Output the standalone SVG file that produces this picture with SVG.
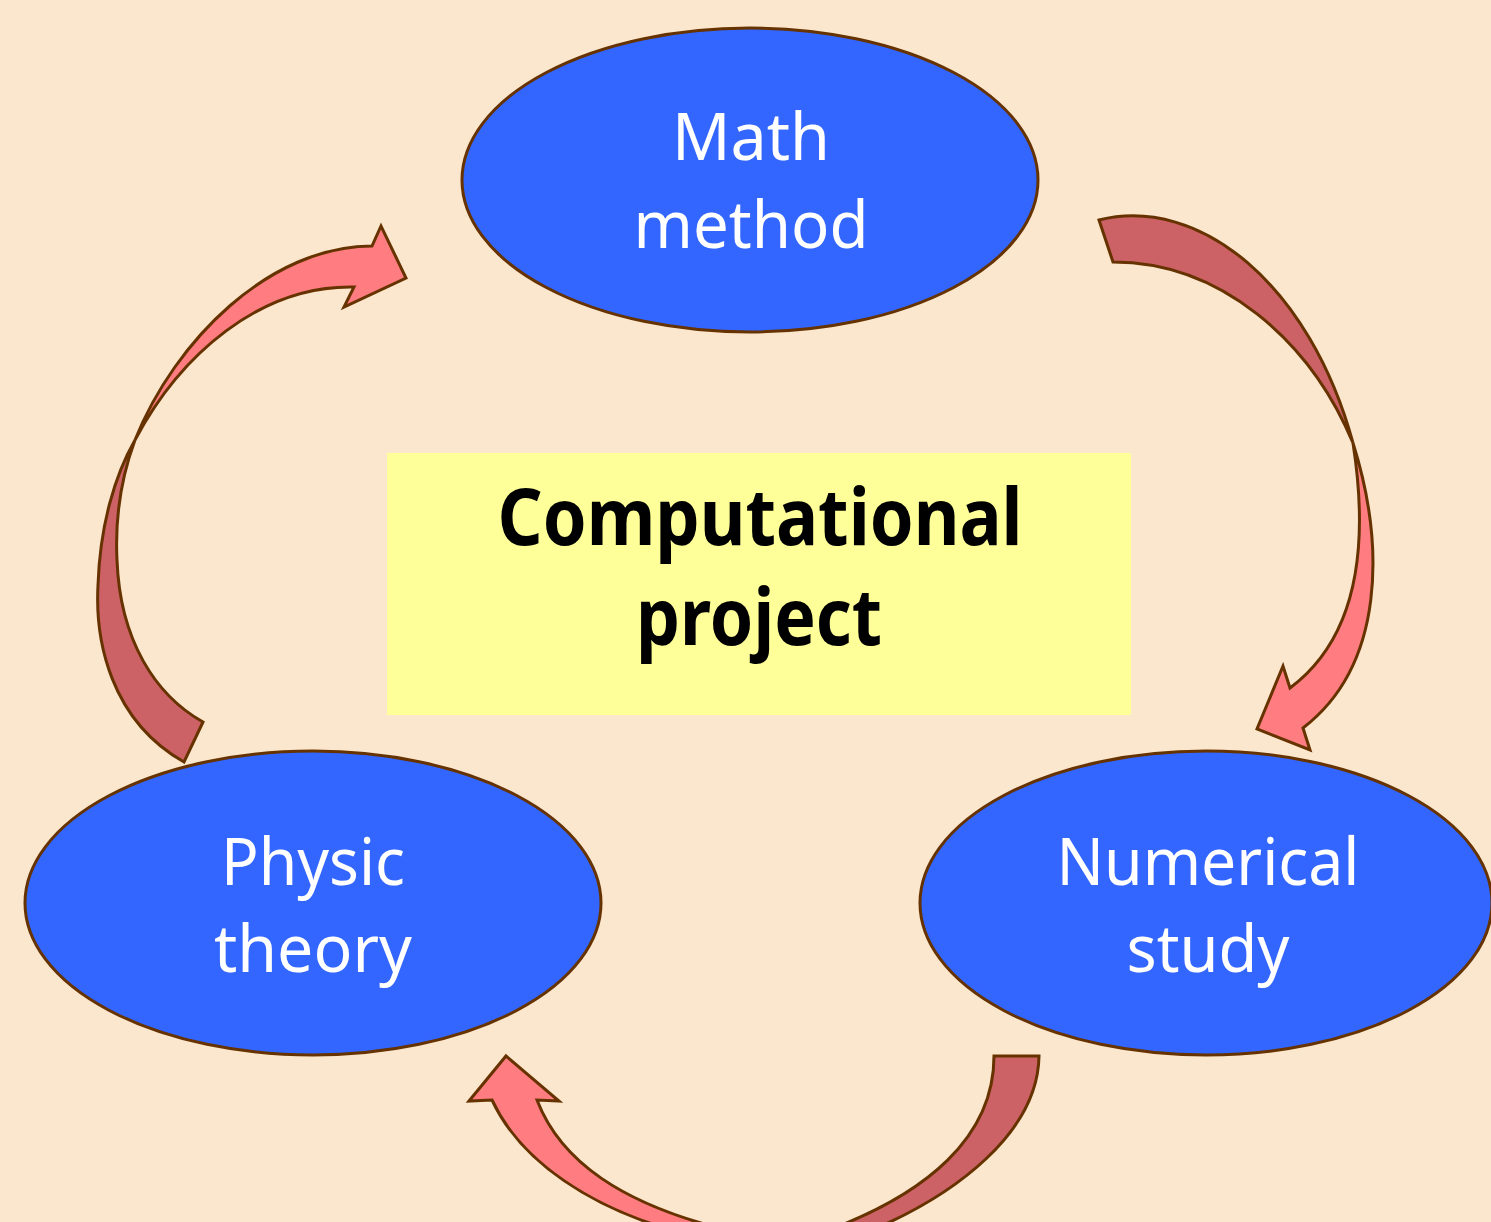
<svg xmlns="http://www.w3.org/2000/svg" width="1491" height="1222" viewBox="0 0 1491 1222">
<style>
.node ellipse{fill:#3366FF;stroke:#663300;stroke-width:3}
.node text{fill:#FFFFFF;font-family:"Noto Sans","Open Sans",sans-serif;font-size:66px;text-anchor:middle}
.light{fill:#FF7C80;stroke:#663300;stroke-width:3;stroke-linejoin:miter}
.dark{fill:#CC6266;stroke:#663300;stroke-width:3;stroke-linejoin:miter}
.title{fill:#000000;font-family:"Noto Sans","Open Sans",sans-serif;font-weight:bold;font-size:78px;text-anchor:middle}
</style>
<rect width="1491" height="1222" fill="#FBE6CE"/>
<g id="center">
<rect x="387" y="453" width="744" height="262" fill="#FFFF99"/>
<text class="title" x="760" y="545" textLength="525" lengthAdjust="spacingAndGlyphs">Computational</text>
<text class="title" x="759" y="645" textLength="246" lengthAdjust="spacingAndGlyphs">project</text>
</g>
<g id="connectors">
<g id="arrow-left">
<path class="dark" d="M184,762 C110,720 95,640 98,585 C100,525 115,475 135,440 C121,478 115,520 117,560 C120,640 155,695 203,722 Z"/>
<path class="light" d="M135,440 C175,340 270,246 372,246 L381,226 L406,278 L344,307 L354,287 C260,285 180,355 135,440 Z"/>
</g>
<g id="arrow-right">
<path class="dark" d="M1099,220 C1200,195 1310,285 1353,443 C1310,340 1220,262 1113,262 Z"/>
<path class="light" d="M1353,443 C1365,520 1368,630 1290,688 L1283,666 L1257,729 L1310,750 L1303,728 C1385,665 1385,545 1353,443 Z"/>
</g>
<g id="arrow-bottom">
<path class="light" d="M469,1101 L506,1056 L559,1101 L537,1100 C560,1160 620,1205 735,1232 L690,1235 C590,1210 520,1160 492,1100 Z"/>
<path class="dark" d="M994,1056 L1039,1056 C1038,1130 960,1195 860,1235 L815,1235 C930,1195 994,1135 994,1056 Z"/>
</g>
</g>
<g id="node-math" class="node">
<ellipse cx="750" cy="180" rx="288" ry="152"/>
<text x="751" y="160" textLength="158" lengthAdjust="spacingAndGlyphs">Math</text>
<text x="751" y="248" textLength="235" lengthAdjust="spacingAndGlyphs">method</text>
</g>
<g id="node-physic" class="node">
<ellipse cx="313" cy="903" rx="288" ry="152"/>
<text x="313" y="885" textLength="184" lengthAdjust="spacingAndGlyphs">Physic</text>
<text x="313" y="972" textLength="198" lengthAdjust="spacingAndGlyphs">theory</text>
</g>
<g id="node-numerical" class="node">
<ellipse cx="1206" cy="903" rx="286" ry="152"/>
<text x="1208" y="885" textLength="303" lengthAdjust="spacingAndGlyphs">Numerical</text>
<text x="1208" y="972" textLength="163" lengthAdjust="spacingAndGlyphs">study</text>
</g>
</svg>
